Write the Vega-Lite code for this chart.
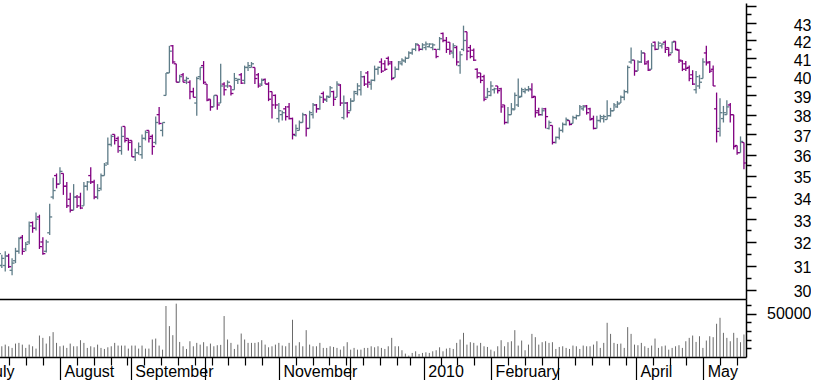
{
"$schema": "https://vega.github.io/schema/vega-lite/v6.json",
"padding": {"left": -19, "top": 0, "right": 0, "bottom": 0},
"background": "white",
"spacing": 0,
"bounds": "flush",
"config": {"view": {"stroke": null}, "axis": {"labelFont": "Liberation Sans", "labelFontSize": 16, "labelColor": "black", "domainColor": "black", "tickColor": "black", "grid": false, "labelFlush": false, "labelOverlap": false, "labelBound": false}},
"datasets": {"d": [
{"i":0,"o":31.05,"h":31.85,"l":30.85,"c":31.5,"v":17100},
{"i":1,"o":31.0,"h":31.45,"l":30.9,"c":31.3,"v":12400},
{"i":2,"o":31.0,"h":31.6,"l":30.75,"c":31.4,"v":14300},
{"i":3,"o":31.4,"h":31.5,"l":30.9,"c":30.95,"v":12400},
{"i":4,"o":30.8,"h":31.3,"l":30.6,"c":31.1,"v":10500},
{"i":5,"o":31.2,"h":31.75,"l":31.1,"c":31.6,"v":15500},
{"i":6,"o":31.6,"h":32.2,"l":31.5,"c":32.15,"v":16300},
{"i":7,"o":32.2,"h":32.3,"l":31.45,"c":31.6,"v":14300},
{"i":8,"o":31.7,"h":32.0,"l":31.6,"c":31.9,"v":10500},
{"i":9,"o":32.0,"h":32.9,"l":31.9,"c":32.7,"v":14300},
{"i":10,"o":32.85,"h":32.9,"l":32.4,"c":32.6,"v":12400},
{"i":11,"o":32.6,"h":33.3,"l":32.5,"c":33.0,"v":9700},
{"i":12,"o":33.1,"h":33.2,"l":31.7,"c":31.8,"v":24800},
{"i":13,"o":32.0,"h":32.2,"l":31.45,"c":31.5,"v":22100},
{"i":14,"o":31.6,"h":32.1,"l":31.55,"c":32.0,"v":15500},
{"i":15,"o":32.4,"h":33.7,"l":32.3,"c":33.1,"v":24000},
{"i":16,"o":34.0,"h":34.9,"l":33.9,"c":34.3,"v":28700},
{"i":17,"o":35.0,"h":35.1,"l":34.4,"c":34.6,"v":16300},
{"i":18,"o":34.6,"h":35.4,"l":34.6,"c":35.2,"v":12400},
{"i":19,"o":35.1,"h":35.1,"l":34.1,"c":34.5,"v":13200},
{"i":20,"o":34.5,"h":34.7,"l":33.5,"c":33.6,"v":10500},
{"i":21,"o":33.9,"h":34.2,"l":33.3,"c":33.4,"v":15500},
{"i":22,"o":33.4,"h":34.6,"l":33.4,"c":34.0,"v":12400},
{"i":23,"o":34.0,"h":34.1,"l":33.5,"c":33.6,"v":12400},
{"i":24,"o":34.0,"h":34.2,"l":33.45,"c":33.5,"v":19400},
{"i":25,"o":33.6,"h":34.7,"l":33.6,"c":34.5,"v":16300},
{"i":26,"o":34.5,"h":34.75,"l":34.3,"c":34.7,"v":10500},
{"i":27,"o":35.0,"h":35.4,"l":34.6,"c":34.7,"v":12400},
{"i":28,"o":34.7,"h":34.8,"l":33.9,"c":34.0,"v":11200},
{"i":29,"o":34.0,"h":34.6,"l":33.9,"c":34.3,"v":14300},
{"i":30,"o":34.4,"h":35.1,"l":34.3,"c":35.0,"v":10500},
{"i":31,"o":35.0,"h":35.6,"l":35.0,"c":35.5,"v":9300},
{"i":32,"o":35.6,"h":36.85,"l":35.5,"c":36.5,"v":11200},
{"i":33,"o":36.5,"h":37.0,"l":36.4,"c":36.9,"v":12400},
{"i":34,"o":37.0,"h":37.0,"l":36.5,"c":36.7,"v":16300},
{"i":35,"o":36.8,"h":36.9,"l":36.1,"c":36.4,"v":13200},
{"i":36,"o":36.2,"h":37.4,"l":36.0,"c":36.9,"v":13200},
{"i":37,"o":37.4,"h":37.4,"l":36.6,"c":36.7,"v":13200},
{"i":38,"o":36.8,"h":36.8,"l":36.2,"c":36.6,"v":9700},
{"i":39,"o":36.7,"h":36.7,"l":35.9,"c":35.9,"v":13200},
{"i":40,"o":35.9,"h":36.3,"l":35.7,"c":36.1,"v":13200},
{"i":41,"o":36.1,"h":36.6,"l":36.0,"c":36.4,"v":9700},
{"i":42,"o":36.0,"h":37.0,"l":35.8,"c":36.8,"v":13200},
{"i":43,"o":36.8,"h":37.2,"l":36.7,"c":37.1,"v":9700},
{"i":44,"o":37.2,"h":37.2,"l":36.6,"c":36.8,"v":9700},
{"i":45,"o":36.9,"h":37.0,"l":36.0,"c":36.4,"v":20200},
{"i":46,"o":36.6,"h":37.9,"l":36.5,"c":37.6,"v":21300},
{"i":47,"o":38.0,"h":38.4,"l":37.5,"c":37.55,"v":13200},
{"i":48,"o":37.2,"h":37.6,"l":36.9,"c":37.6,"v":8500},
{"i":49,"o":39.0,"h":40.2,"l":39.0,"c":40.2,"v":58900},
{"i":50,"o":40.2,"h":41.7,"l":40.2,"c":41.4,"v":35700},
{"i":51,"o":41.7,"h":41.75,"l":40.7,"c":40.8,"v":25200},
{"i":52,"o":40.7,"h":40.7,"l":39.7,"c":39.7,"v":61600},
{"i":53,"o":39.7,"h":40.1,"l":39.7,"c":40.0,"v":17400},
{"i":54,"o":40.1,"h":40.2,"l":39.7,"c":39.7,"v":12400},
{"i":55,"o":39.8,"h":40.0,"l":39.6,"c":39.9,"v":9300},
{"i":56,"o":39.7,"h":39.8,"l":38.8,"c":39.2,"v":18200},
{"i":57,"o":39.2,"h":39.4,"l":38.9,"c":38.9,"v":12400},
{"i":58,"o":38.6,"h":40.0,"l":37.95,"c":39.9,"v":16300},
{"i":59,"o":40.0,"h":40.5,"l":39.8,"c":40.5,"v":14300},
{"i":60,"o":40.6,"h":40.85,"l":39.6,"c":39.7,"v":17100},
{"i":61,"o":39.6,"h":39.6,"l":38.7,"c":38.75,"v":12400},
{"i":62,"o":38.8,"h":38.8,"l":38.2,"c":38.4,"v":15500},
{"i":63,"o":38.4,"h":39.0,"l":38.4,"c":39.0,"v":12400},
{"i":64,"o":39.0,"h":39.0,"l":38.25,"c":38.5,"v":13600},
{"i":65,"o":38.6,"h":40.7,"l":38.6,"c":39.5,"v":14000},
{"i":66,"o":39.6,"h":39.7,"l":39.0,"c":39.3,"v":47300},
{"i":67,"o":39.5,"h":39.8,"l":39.4,"c":39.7,"v":20200},
{"i":68,"o":39.5,"h":39.5,"l":39.0,"c":39.1,"v":16300},
{"i":69,"o":39.3,"h":40.2,"l":39.3,"c":39.9,"v":9300},
{"i":70,"o":39.8,"h":39.9,"l":39.6,"c":39.85,"v":14300},
{"i":71,"o":40.1,"h":40.2,"l":39.6,"c":39.65,"v":27100},
{"i":72,"o":39.8,"h":40.6,"l":39.6,"c":40.5,"v":20200},
{"i":73,"o":40.5,"h":40.8,"l":40.3,"c":40.6,"v":16300},
{"i":74,"o":40.5,"h":40.8,"l":40.5,"c":40.7,"v":16300},
{"i":75,"o":40.5,"h":40.5,"l":39.6,"c":39.9,"v":16300},
{"i":76,"o":40.1,"h":40.2,"l":39.4,"c":39.5,"v":17100},
{"i":77,"o":39.6,"h":39.9,"l":39.5,"c":39.8,"v":19400},
{"i":78,"o":39.85,"h":39.9,"l":39.6,"c":39.6,"v":14300},
{"i":79,"o":39.6,"h":39.7,"l":38.7,"c":38.8,"v":11200},
{"i":80,"o":39.2,"h":39.2,"l":37.8,"c":38.5,"v":12400},
{"i":81,"o":39.0,"h":39.05,"l":38.3,"c":38.5,"v":14300},
{"i":82,"o":37.8,"h":38.6,"l":37.6,"c":38.2,"v":16300},
{"i":83,"o":38.0,"h":38.2,"l":37.7,"c":38.1,"v":13200},
{"i":84,"o":38.3,"h":38.45,"l":37.7,"c":37.9,"v":12400},
{"i":85,"o":38.4,"h":38.6,"l":37.75,"c":37.8,"v":16300},
{"i":86,"o":37.8,"h":37.85,"l":36.75,"c":37.0,"v":43000},
{"i":87,"o":36.95,"h":37.5,"l":36.9,"c":37.3,"v":13200},
{"i":88,"o":37.2,"h":37.7,"l":37.2,"c":37.6,"v":17100},
{"i":89,"o":37.6,"h":38.1,"l":37.6,"c":38.0,"v":12400},
{"i":90,"o":38.0,"h":38.0,"l":36.9,"c":37.3,"v":31000},
{"i":91,"o":37.3,"h":38.2,"l":37.3,"c":38.1,"v":14300},
{"i":92,"o":38.0,"h":38.6,"l":37.8,"c":38.5,"v":12400},
{"i":93,"o":38.5,"h":38.55,"l":38.1,"c":38.3,"v":12400},
{"i":94,"o":38.3,"h":39.0,"l":38.25,"c":38.9,"v":16300},
{"i":95,"o":39.1,"h":39.2,"l":38.6,"c":38.8,"v":10500},
{"i":96,"o":38.75,"h":39.0,"l":38.65,"c":38.95,"v":10500},
{"i":97,"o":38.9,"h":39.5,"l":38.9,"c":39.4,"v":12400},
{"i":98,"o":39.2,"h":39.25,"l":38.45,"c":38.8,"v":11600},
{"i":99,"o":38.9,"h":39.75,"l":38.9,"c":39.6,"v":10500},
{"i":100,"o":39.55,"h":39.6,"l":38.45,"c":38.6,"v":8500},
{"i":101,"o":37.85,"h":39.0,"l":37.75,"c":38.6,"v":12400},
{"i":102,"o":38.6,"h":38.65,"l":37.85,"c":38.1,"v":17100},
{"i":103,"o":38.2,"h":38.85,"l":38.2,"c":38.7,"v":8500},
{"i":104,"o":38.7,"h":39.25,"l":38.7,"c":39.2,"v":10500},
{"i":105,"o":39.1,"h":39.65,"l":39.0,"c":39.5,"v":8500},
{"i":106,"o":39.3,"h":40.3,"l":39.0,"c":40.0,"v":8500},
{"i":107,"o":40.0,"h":40.05,"l":39.5,"c":39.6,"v":10500},
{"i":108,"o":40.2,"h":40.3,"l":39.4,"c":39.7,"v":10500},
{"i":109,"o":39.6,"h":39.85,"l":39.3,"c":39.8,"v":12400},
{"i":110,"o":39.8,"h":40.6,"l":39.75,"c":40.4,"v":11200},
{"i":111,"o":40.4,"h":40.55,"l":40.1,"c":40.5,"v":12400},
{"i":112,"o":40.8,"h":41.0,"l":40.2,"c":40.3,"v":10500},
{"i":113,"o":40.7,"h":40.9,"l":40.3,"c":40.4,"v":9300},
{"i":114,"o":41.0,"h":41.1,"l":40.6,"c":40.7,"v":12400},
{"i":115,"o":40.8,"h":40.85,"l":39.8,"c":39.9,"v":22100},
{"i":116,"o":39.95,"h":40.55,"l":39.95,"c":40.4,"v":12400},
{"i":117,"o":40.4,"h":40.85,"l":40.35,"c":40.8,"v":12400},
{"i":118,"o":40.7,"h":41.0,"l":40.6,"c":40.9,"v":7800},
{"i":119,"o":40.85,"h":41.1,"l":40.75,"c":41.0,"v":3900},
{"i":120,"o":41.0,"h":41.4,"l":41.0,"c":41.3,"v":1600},
{"i":121,"o":41.3,"h":41.55,"l":41.2,"c":41.5,"v":4700},
{"i":122,"o":41.5,"h":41.85,"l":41.4,"c":41.8,"v":6600},
{"i":123,"o":41.75,"h":41.75,"l":41.4,"c":41.5,"v":3500},
{"i":124,"o":41.5,"h":41.85,"l":41.45,"c":41.75,"v":4700},
{"i":125,"o":41.6,"h":41.95,"l":41.45,"c":41.8,"v":5400},
{"i":126,"o":41.65,"h":41.85,"l":41.6,"c":41.8,"v":4700},
{"i":127,"o":41.6,"h":41.85,"l":41.45,"c":41.75,"v":6600},
{"i":128,"o":41.5,"h":41.5,"l":41.0,"c":41.1,"v":7800},
{"i":129,"o":41.5,"h":42.2,"l":41.45,"c":42.1,"v":11200},
{"i":130,"o":42.4,"h":42.45,"l":41.9,"c":42.0,"v":6600},
{"i":131,"o":42.0,"h":42.2,"l":41.3,"c":41.5,"v":9700},
{"i":132,"o":41.9,"h":41.9,"l":41.2,"c":41.4,"v":10500},
{"i":133,"o":41.3,"h":41.85,"l":41.0,"c":41.7,"v":9300},
{"i":134,"o":41.6,"h":41.7,"l":40.6,"c":40.8,"v":16300},
{"i":135,"o":40.6,"h":41.4,"l":40.15,"c":41.2,"v":20200},
{"i":136,"o":41.5,"h":42.85,"l":41.4,"c":42.0,"v":27900},
{"i":137,"o":42.5,"h":42.5,"l":40.9,"c":41.4,"v":14300},
{"i":138,"o":41.6,"h":41.75,"l":41.0,"c":41.1,"v":17100},
{"i":139,"o":41.45,"h":41.55,"l":40.85,"c":40.9,"v":16300},
{"i":140,"o":40.4,"h":40.45,"l":39.9,"c":40.0,"v":13200},
{"i":141,"o":40.2,"h":40.2,"l":39.65,"c":39.8,"v":16300},
{"i":142,"o":40.0,"h":40.1,"l":38.7,"c":38.8,"v":12400},
{"i":143,"o":38.9,"h":39.4,"l":38.85,"c":39.2,"v":11600},
{"i":144,"o":39.0,"h":39.75,"l":38.95,"c":39.5,"v":8500},
{"i":145,"o":39.3,"h":39.4,"l":39.1,"c":39.35,"v":6600},
{"i":146,"o":39.5,"h":39.5,"l":39.1,"c":39.25,"v":12400},
{"i":147,"o":39.35,"h":39.4,"l":38.1,"c":38.4,"v":19400},
{"i":148,"o":38.5,"h":38.5,"l":37.5,"c":37.6,"v":12400},
{"i":149,"o":37.6,"h":38.4,"l":37.55,"c":38.0,"v":17100},
{"i":150,"o":38.0,"h":38.6,"l":38.0,"c":38.3,"v":18200},
{"i":151,"o":38.25,"h":39.15,"l":38.25,"c":39.0,"v":31000},
{"i":152,"o":38.5,"h":39.9,"l":38.4,"c":38.9,"v":13200},
{"i":153,"o":38.95,"h":39.4,"l":38.9,"c":39.3,"v":19000},
{"i":154,"o":39.2,"h":39.4,"l":39.1,"c":39.3,"v":7800},
{"i":155,"o":39.3,"h":39.5,"l":39.2,"c":39.35,"v":14300},
{"i":156,"o":39.3,"h":39.65,"l":38.85,"c":38.9,"v":26700},
{"i":157,"o":38.95,"h":38.95,"l":37.85,"c":38.1,"v":22900},
{"i":158,"o":38.2,"h":38.35,"l":37.95,"c":38.0,"v":14300},
{"i":159,"o":38.0,"h":38.35,"l":37.95,"c":38.2,"v":17100},
{"i":160,"o":38.3,"h":38.35,"l":37.3,"c":37.9,"v":18200},
{"i":161,"o":37.3,"h":37.7,"l":37.25,"c":37.6,"v":16300},
{"i":162,"o":37.45,"h":37.45,"l":36.5,"c":36.6,"v":17100},
{"i":163,"o":36.6,"h":36.9,"l":36.55,"c":36.85,"v":9300},
{"i":164,"o":36.85,"h":37.35,"l":36.75,"c":37.2,"v":11600},
{"i":165,"o":37.2,"h":37.6,"l":37.1,"c":37.5,"v":12400},
{"i":166,"o":37.5,"h":37.85,"l":37.45,"c":37.75,"v":10500},
{"i":167,"o":37.7,"h":37.7,"l":37.45,"c":37.5,"v":9300},
{"i":168,"o":37.55,"h":37.95,"l":37.55,"c":37.85,"v":13200},
{"i":169,"o":37.85,"h":38.0,"l":37.75,"c":37.95,"v":12400},
{"i":170,"o":37.95,"h":38.5,"l":37.95,"c":38.4,"v":9300},
{"i":171,"o":38.3,"h":38.5,"l":38.2,"c":38.4,"v":13200},
{"i":172,"o":38.45,"h":38.5,"l":38.0,"c":38.1,"v":12400},
{"i":173,"o":38.3,"h":38.35,"l":37.7,"c":37.75,"v":12400},
{"i":174,"o":37.8,"h":37.95,"l":37.25,"c":37.3,"v":14300},
{"i":175,"o":37.3,"h":37.95,"l":37.3,"c":37.7,"v":18200},
{"i":176,"o":37.7,"h":38.0,"l":37.6,"c":37.9,"v":10500},
{"i":177,"o":37.8,"h":38.0,"l":37.6,"c":37.9,"v":16300},
{"i":178,"o":37.75,"h":38.75,"l":37.75,"c":37.95,"v":39500},
{"i":179,"o":37.95,"h":38.35,"l":37.9,"c":38.2,"v":26700},
{"i":180,"o":38.2,"h":38.6,"l":38.2,"c":38.5,"v":16300},
{"i":181,"o":38.4,"h":38.7,"l":38.35,"c":38.55,"v":15100},
{"i":182,"o":38.6,"h":39.0,"l":38.6,"c":38.9,"v":15500},
{"i":183,"o":38.9,"h":39.3,"l":38.75,"c":39.2,"v":10500},
{"i":184,"o":39.2,"h":40.6,"l":39.1,"c":40.5,"v":34500},
{"i":185,"o":40.8,"h":41.6,"l":40.7,"c":40.9,"v":26700},
{"i":186,"o":40.9,"h":40.9,"l":40.05,"c":40.3,"v":14300},
{"i":187,"o":40.3,"h":40.9,"l":40.3,"c":40.8,"v":13600},
{"i":188,"o":40.8,"h":41.45,"l":40.75,"c":41.3,"v":16300},
{"i":189,"o":41.3,"h":41.3,"l":40.65,"c":40.7,"v":12400},
{"i":190,"o":40.8,"h":40.9,"l":40.3,"c":40.35,"v":10500},
{"i":191,"o":40.4,"h":41.85,"l":40.4,"c":41.7,"v":13200},
{"i":192,"o":41.9,"h":41.95,"l":41.45,"c":41.5,"v":21300},
{"i":193,"o":41.5,"h":41.95,"l":41.5,"c":41.85,"v":10500},
{"i":194,"o":41.7,"h":41.85,"l":41.55,"c":41.8,"v":12400},
{"i":195,"o":41.9,"h":42.0,"l":41.3,"c":41.5,"v":13200},
{"i":196,"o":41.6,"h":41.6,"l":41.1,"c":41.2,"v":8500},
{"i":197,"o":41.3,"h":41.95,"l":41.3,"c":41.9,"v":10500},
{"i":198,"o":41.95,"h":41.95,"l":41.45,"c":41.5,"v":12400},
{"i":199,"o":41.45,"h":41.5,"l":40.75,"c":40.9,"v":13600},
{"i":200,"o":40.85,"h":40.9,"l":40.3,"c":40.4,"v":10500},
{"i":201,"o":40.7,"h":40.85,"l":40.3,"c":40.45,"v":18200},
{"i":202,"o":40.5,"h":40.6,"l":39.75,"c":39.9,"v":22100},
{"i":203,"o":40.1,"h":40.35,"l":39.55,"c":39.6,"v":24800},
{"i":204,"o":39.3,"h":40.3,"l":39.1,"c":40.0,"v":17400},
{"i":205,"o":39.5,"h":40.1,"l":39.35,"c":39.7,"v":24000},
{"i":206,"o":39.9,"h":41.0,"l":39.9,"c":40.8,"v":10500},
{"i":207,"o":41.3,"h":41.7,"l":40.6,"c":40.75,"v":19000},
{"i":208,"o":40.8,"h":40.85,"l":40.2,"c":40.3,"v":24000},
{"i":209,"o":40.4,"h":40.6,"l":39.5,"c":39.5,"v":22900},
{"i":210,"o":38.3,"h":39.15,"l":36.6,"c":37.15,"v":38400},
{"i":211,"o":37.3,"h":38.85,"l":36.9,"c":38.1,"v":45300},
{"i":212,"o":37.8,"h":38.45,"l":37.6,"c":38.1,"v":27900},
{"i":213,"o":38.0,"h":38.75,"l":38.0,"c":38.4,"v":22100},
{"i":214,"o":38.5,"h":38.6,"l":37.6,"c":38.0,"v":18200},
{"i":215,"o":38.0,"h":38.0,"l":36.25,"c":36.4,"v":27900},
{"i":216,"o":36.45,"h":36.45,"l":36.0,"c":36.1,"v":22100},
{"i":217,"o":36.1,"h":36.9,"l":36.1,"c":36.65,"v":17100},
{"i":218,"o":36.6,"h":36.6,"l":35.3,"c":35.6,"v":26000}
]},
"vconcat": [
{
"width": 750, "height": 296,
"data": {"name": "d"},
"encoding": {
  "x": {"field": "i", "type": "quantitative", "scale": {"domain": [-6, 218.6], "range": [-18.12, 750], "nice": false, "zero": false},
        "axis": {"ticks": false, "labels": false, "domain": true, "domainWidth": 1.5, "title": null}},
  "color": {"condition": {"test": "datum.c < datum.o", "value": "#800080"}, "value": "#5e7c88"}
},
"layer": [
  {"mark": {"type": "rule", "strokeWidth": 1.3, "clip": true},
   "encoding": {
     "y": {"field": "h", "type": "quantitative", "scale": {"type": "log", "domain": [29.63, 44.18], "nice": false, "zero": false},
           "axis": {"orient": "right", "title": null,
                    "values": [30,30.5,31,31.5,32,32.5,33,33.5,34,34.5,35,35.5,36,36.5,37,37.5,38,38.5,39,39.5,40,40.5,41,41.5,42,42.5,43,43.5,44],
                    "tickSize": {"condition": {"test": "datum.value % 1 == 0", "value": 10}, "value": 5},
                    "labelExpr": "(datum.value % 1 == 0 && datum.value < 44) ? format(datum.value, 'd') : ''",
                    "labelAlign": "right", "labelBaseline": "middle", "labelPadding": 55, "labelOffset": 2,
                    "domainWidth": 1.5, "tickWidth": 1.5}},
     "y2": {"field": "l"}
   }},
  {"mark": {"type": "rule", "strokeWidth": 1.3, "xOffset": -2.5, "x2Offset": 0, "clip": true},
   "encoding": {
     "x2": {"field": "i"},
     "y": {"field": "o", "type": "quantitative", "scale": {"type": "log", "domain": [29.63, 44.18], "nice": false, "zero": false},
           "axis": {"orient": "right", "title": null,
                    "values": [30,30.5,31,31.5,32,32.5,33,33.5,34,34.5,35,35.5,36,36.5,37,37.5,38,38.5,39,39.5,40,40.5,41,41.5,42,42.5,43,43.5,44],
                    "tickSize": {"condition": {"test": "datum.value % 1 == 0", "value": 10}, "value": 5},
                    "labelExpr": "(datum.value % 1 == 0 && datum.value < 44) ? format(datum.value, 'd') : ''",
                    "labelAlign": "right", "labelBaseline": "middle", "labelPadding": 55, "labelOffset": 2,
                    "domainWidth": 1.5, "tickWidth": 1.5}}
   }},
  {"mark": {"type": "rule", "strokeWidth": 1.3, "xOffset": 0, "x2Offset": 2.5, "clip": true},
   "encoding": {
     "x2": {"field": "i"},
     "y": {"field": "c", "type": "quantitative", "scale": {"type": "log", "domain": [29.63, 44.18], "nice": false, "zero": false},
           "axis": {"orient": "right", "title": null,
                    "values": [30,30.5,31,31.5,32,32.5,33,33.5,34,34.5,35,35.5,36,36.5,37,37.5,38,38.5,39,39.5,40,40.5,41,41.5,42,42.5,43,43.5,44],
                    "tickSize": {"condition": {"test": "datum.value % 1 == 0", "value": 10}, "value": 5},
                    "labelExpr": "(datum.value % 1 == 0 && datum.value < 44) ? format(datum.value, 'd') : ''",
                    "labelAlign": "right", "labelBaseline": "middle", "labelPadding": 55, "labelOffset": 2,
                    "domainWidth": 1.5, "tickWidth": 1.5}}
   }}
]
},
{
"width": 750, "height": 58,
"data": {"name": "d"},
"mark": {"type": "rule", "strokeWidth": 1, "color": "#6a6a6a", "clip": true},
"encoding": {
  "x": {"field": "i", "type": "quantitative", "scale": {"domain": [-6, 218.6], "range": [-18.12, 750], "nice": false, "zero": false},
        "axis": {"title": null,
                 "values": [-4.91,3.24,8.16,13.09,18.01,22.94,27.86,32.78,37.71,38.69,42.63,47.56,52.48,57.4,60.36,62.33,67.25,72.18,77.1,82.02,86.95,91.87,96.8,101.72,102.71,106.64,111.57,116.49,120.43,124.37,129.29,134.22,139.14,144.07,148.99,153.91,158.84,163.76,168.69,173.61,178.53,183.46,186.41,191.34,196.26,201.19,206.11,211.03,215.96],
                 "tickSize": {"condition": {"test": "indexof([-4.91,18.01,38.69,60.36,82.02,102.71,124.37,144.07,163.76,186.41,206.11], datum.value) >= 0", "value": 26}, "value": 8},
                 "labelExpr": "datum.value == -4.91 ? 'July' : datum.value == 18.01 ? 'August' : datum.value == 38.69 ? 'September' : datum.value == 82.02 ? 'November' : datum.value == 124.37 ? '2010' : datum.value == 144.07 ? 'February' : datum.value == 186.41 ? 'April' : datum.value == 206.11 ? 'May' : ''",
                 "labelAlign": "left", "labelBaseline": "alphabetic", "labelOffset": 4, "labelPadding": -7,
                 "domainWidth": 1.5, "tickWidth": 1.2}},
  "y": {"field": "v", "type": "quantitative", "scale": {"domain": [0, 67000], "nice": false},
        "axis": {"orient": "right", "title": null,
                 "values": [10000,20000,30000,40000,50000,60000],
                 "tickSize": {"condition": {"test": "datum.value == 50000", "value": 10}, "value": 5},
                 "labelExpr": "datum.value == 50000 ? '50000' : ''",
                 "labelAlign": "right", "labelBaseline": "middle", "labelPadding": 55, "labelOffset": 0,
                 "domainWidth": 1.5, "tickWidth": 1.5}},
  "y2": {"datum": 0}
}
}
]
}
